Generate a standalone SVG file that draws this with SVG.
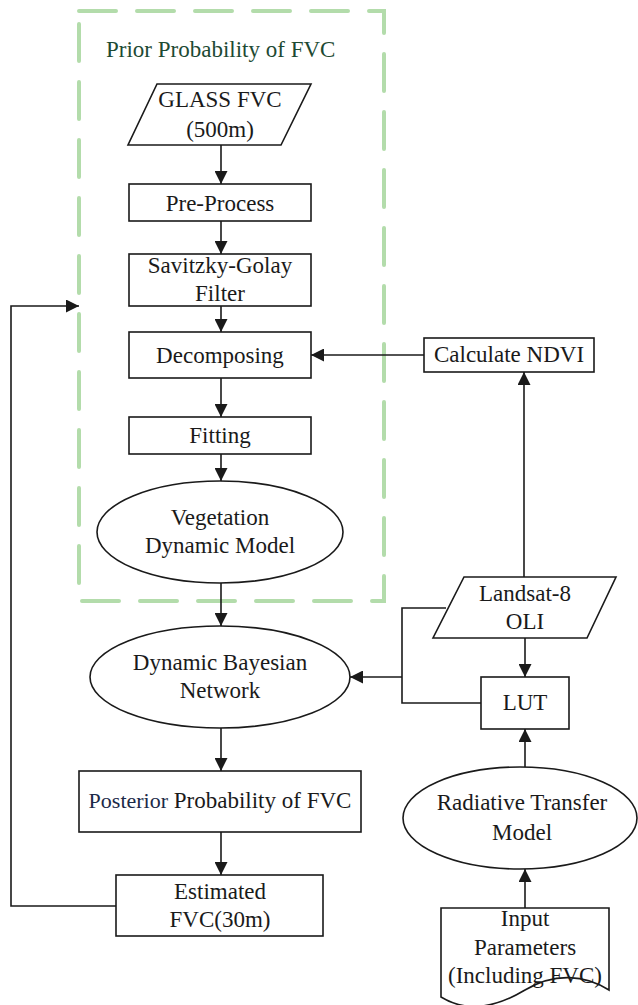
<svg xmlns="http://www.w3.org/2000/svg" width="638" height="1005" viewBox="0 0 638 1005">
<style>
text{font-family:"Liberation Serif","Times New Roman",serif;font-size:23px;fill:#1a1a1a;text-anchor:middle}
.shape{fill:#fff;stroke:#1a1a1a;stroke-width:1.6}
.conn{fill:none;stroke:#1a1a1a;stroke-width:1.6}
.title{fill:#1d4a33;text-anchor:start}
</style>
<defs>
<marker id="ah" markerUnits="userSpaceOnUse" markerWidth="13" markerHeight="13" refX="13" refY="6.5" orient="auto">
<path d="M0,0 L13,6.5 L0,13 Z" fill="#1a1a1a"/>
</marker>
</defs>
<rect width="638" height="1005" fill="#fff"/>
<g id="prior-group">
<rect x="79" y="11" width="305" height="590" fill="none" stroke="#b3dcab" stroke-width="4" stroke-linecap="round" stroke-dasharray="37 21"/>
<text class="title" x="106" y="57">Prior Probability of FVC</text>
</g>
<g id="glass"><path class="shape" d="M157,84 H311 L281,145 H128 Z"/><text x="220" y="107">GLASS FVC</text><text x="220" y="137">(500m)</text></g>
<g id="preprocess"><rect class="shape" x="129" y="184" width="182" height="37"/><text x="220" y="211">Pre-Process</text></g>
<g id="sgfilter"><rect class="shape" x="129" y="254" width="182" height="52"/><text x="220" y="273">Savitzky-Golay</text><text x="220" y="301">Filter</text></g>
<g id="decomposing"><rect class="shape" x="129" y="332" width="182" height="46"/><text x="220" y="363">Decomposing</text></g>
<g id="fitting"><rect class="shape" x="129" y="417" width="182" height="37"/><text x="220" y="443">Fitting</text></g>
<g id="vdm"><ellipse class="shape" cx="220" cy="532" rx="123" ry="51"/><text x="220" y="525">Vegetation</text><text x="220" y="553">Dynamic Model</text></g>
<g id="dbn"><ellipse class="shape" cx="220" cy="677" rx="130" ry="51"/><text x="220" y="670">Dynamic Bayesian</text><text x="220" y="698">Network</text></g>
<g id="posterior"><rect class="shape" x="79" y="771" width="282" height="61"/><text x="220" y="808"><tspan fill="#1c2a48" font-size="22">Posterior</tspan> Probability of FVC</text></g>
<g id="estimated"><rect class="shape" x="116" y="875" width="207" height="61"/><text x="220" y="899">Estimated</text><text x="220" y="927">FVC(30m)</text></g>
<g id="ndvi"><rect class="shape" x="424" y="338" width="170" height="34"/><text x="509" y="362">Calculate NDVI</text></g>
<g id="landsat"><path class="shape" d="M464,577 H616 L587,638 H433 Z"/><text x="525" y="601">Landsat-8</text><text x="525" y="629">OLI</text></g>
<g id="lut"><rect class="shape" x="481" y="677" width="88" height="52"/><text x="525" y="710">LUT</text></g>
<g id="rtm"><ellipse class="shape" cx="520" cy="818" rx="117" ry="51"/><text x="522" y="810">Radiative Transfer</text><text x="522" y="840">Model</text></g>
<g id="input"><path class="shape" d="M441,908 H609 V990 C585,975 555,972 525,990 C500,1005 470,1015 441,997 Z"/><text x="525" y="926">Input</text><text x="525" y="955">Parameters</text><text x="525" y="983">(Including FVC)</text></g>
<g id="connectors">
<path class="conn" d="M221,145 V184" marker-end="url(#ah)"/>
<path class="conn" d="M221,221 V254" marker-end="url(#ah)"/>
<path class="conn" d="M221,306 V332" marker-end="url(#ah)"/>
<path class="conn" d="M221,378 V417" marker-end="url(#ah)"/>
<path class="conn" d="M221,454 V481" marker-end="url(#ah)"/>
<path class="conn" d="M221,583 V626" marker-end="url(#ah)"/>
<path class="conn" d="M221,728 V771" marker-end="url(#ah)"/>
<path class="conn" d="M221,832 V875" marker-end="url(#ah)"/>
<path class="conn" d="M116,906 H11 V306 H79" marker-end="url(#ah)"/>
<path class="conn" d="M424,355 H311" marker-end="url(#ah)"/>
<path class="conn" d="M524,577 V372" marker-end="url(#ah)"/>
<path class="conn" d="M525,638 V677" marker-end="url(#ah)"/>
<path class="conn" d="M446,608 H402 V703 H481"/>
<path class="conn" d="M402,677 H350" marker-end="url(#ah)"/>
<path class="conn" d="M525,767 V729" marker-end="url(#ah)"/>
<path class="conn" d="M525,908 V869" marker-end="url(#ah)"/>
</g>
</svg>
